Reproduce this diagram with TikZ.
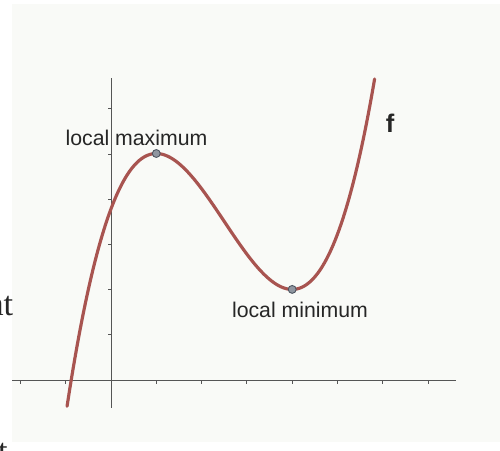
\documentclass[tikz,border=0pt]{standalone}
\usepackage{fontspec}
\setmainfont{Liberation Sans}
\newfontfamily\serifscan{Liberation Serif}
\definecolor{curvecol}{RGB}{168,84,80}
\definecolor{axiscol}{RGB}{85,85,85}
\definecolor{paper}{RGB}{249,250,247}
\definecolor{dotcol}{RGB}{95,105,120}
\begin{document}
\begin{tikzpicture}[x=0.02cm,y=-0.02cm,
  axisline/.style={draw=axiscol,line width=0.5pt},
  tickmark/.style={draw=axiscol,line width=0.5pt},
  curveline/.style={draw=curvecol,line width=1.8pt,line cap=round},
  extremum/.style={circle,draw=dotcol!80!black,fill=dotcol!70,inner sep=0pt,minimum size=4.5pt,line width=0.5pt},
  lbl/.style={font=\fontsize{12.1pt}{14pt}\selectfont,text=black!85,inner sep=0pt,anchor=base},
  frag/.style={font=\serifscan\fontsize{19.5pt}{22pt}\selectfont,inner sep=0pt,text=black!85}]
\useasboundingbox (0,0) rectangle (500,450);
\fill[white] (0,0) rectangle (500,450);
\fill[paper] (12,4) rectangle (500,442);
\begin{scope}
\clip (0,0) rectangle (500,450);
\node[frag,anchor=base east] (nt) at (13.5,315) {nt};
\node[frag,anchor=base east] (tt) at (8,462) {t};
\end{scope}
% axes
\coordinate (xl) at (12,380);
\coordinate (xr) at (456,380);
\coordinate (yt) at (111,78);
\coordinate (yb) at (111,408);
\draw[axisline] (xl) -- (xr);
\draw[axisline] (yt) -- (yb);
\foreach \k in {-2,-1,1,2,3,4,5,6,7}{
  \draw[tickmark] ({111+45.3*\k},380) -- ({111+45.3*\k},383.5);
}
\foreach \k in {1,...,6}{
  \draw[tickmark] (111,{380-45.2*\k}) -- (108,{380-45.2*\k});
}
% curve
\draw[curveline] plot[domain=-0.97:5.82,samples=120,smooth]
  ({111+45.3*\x},{380-45.3*((2/9)*\x*\x*\x-(5/3)*\x*\x+(8/3)*\x+34/9)});
% extrema
\node[extremum] (max) at (156.3,153.5) {};
\node[extremum] (min) at (292.2,289.4) {};
% labels
\node[lbl] (lmax) at (136.5,145) {local maximum};
\node[lbl] (lmin) at (300,317) {local minimum};
\node[lbl,font=\bfseries\fontsize{14.5pt}{16pt}\selectfont] (fl) at (390,132) {f};
\end{tikzpicture}
\end{document}
